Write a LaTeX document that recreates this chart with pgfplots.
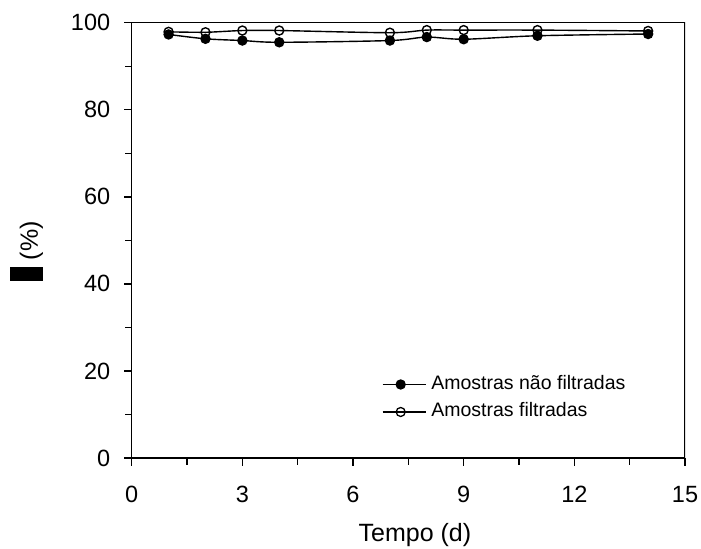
\documentclass[border=0pt]{standalone}
\usepackage{pgfplots}
\pgfplotsset{compat=1.18}
\usepackage{fontspec}
\setmainfont{Liberation Sans}
\begin{document}
\fontsize{23.5bp}{28bp}\selectfont
\begin{tikzpicture}
\begin{axis}[
  name=ax,
  scale only axis,
  width=553.3bp, height=435.3bp,
  xmin=0, xmax=15, ymin=0, ymax=100,
  xtick={0,3,6,9,12,15},
  ytick={0,20,40,60,80,100},
  minor x tick num=1,
  minor y tick num=1,
  tick align=outside,
  axis x line*=bottom, axis y line*=left,
  major tick length=7.5bp, minor tick length=6.5bp,
  tick style={black, line width=1.4bp},
  axis line style={line width=1.6bp},
  every outer x axis line/.append style={-},
  every outer y axis line/.append style={-},
  /pgf/number format/assume math mode=true,
  tick label style={font=\fontsize{23.5bp}{28bp}\selectfont},
  xticklabel style={yshift=-13bp},
  yticklabel style={xshift=-6bp},
  label style={font=\fontsize{25bp}{30bp}\selectfont},
  xlabel={Tempo (d)},
  xlabel style={at={(ticklabel cs:0.512,4bp)}},
  ylabel={\rule[-5bp]{14bp}{33bp} (\%)},
  ylabel style={at={(ticklabel cs:0.475,12bp)}},
  legend cell align=left,
  legend style={draw=none, fill=none, inner sep=0pt, at={(0.452,0.19)}, anchor=north west,
    font=\fontsize{19.5bp}{23bp}\selectfont, row sep=9.5bp, column sep=5bp,
    nodes={inner sep=0pt, text height=14bp, text depth=4bp}},
  legend image code/.code={
    \draw[line width=1.4bp] (0bp,0bp) -- (43bp,0bp);
    \draw[#1, line width=1.3bp] plot coordinates {(18bp,0bp)};
  },
]
\draw[line width=1.6bp] (rel axis cs:0,1) -- (rel axis cs:1,1) -- (rel axis cs:1,0);
\addplot[black, line width=1.4bp, smooth, mark=*, mark size=4.5bp, mark options={fill=black}]
  coordinates {(1,97.3) (2,96.3) (3,95.9) (4,95.5) (7,95.9) (8,96.7) (9,96.2) (11,97.0) (14,97.4)};
\addlegendentry{Amostras não filtradas}
\addplot[black, line width=1.4bp, smooth, mark=o, mark size=4.5bp, mark options={fill=white}]
  coordinates {(1,97.9) (2,97.8) (3,98.2) (4,98.2) (7,97.7) (8,98.3) (9,98.3) (11,98.3) (14,98.1)};
\addlegendentry{Amostras filtradas}
\end{axis}
\pgfresetboundingbox
\path[use as bounding box] (ax.south west) ++(-131.7bp,-91bp) rectangle ++(701bp,549bp);
\end{tikzpicture}
\end{document}
